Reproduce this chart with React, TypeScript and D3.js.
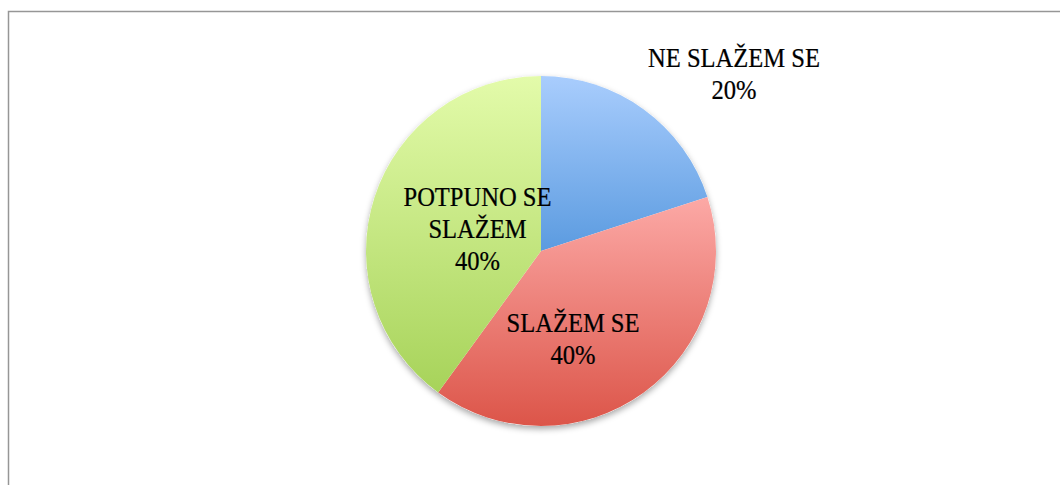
import React from "react";
import * as d3 from "d3";

const categories = ["NE SLAŽEM SE", "SLAŽEM SE", "POTPUNO SE SLAŽEM"];
const values = [20, 40, 40];
const labelLines = [["NE SLAŽEM SE", "20%"], ["SLAŽEM SE", "40%"], ["POTPUNO SE", "SLAŽEM", "40%"]];
const gradTop = ["#a9cdfd", "#fca9a6", "#e3fbaa"];
const gradBottom = ["#5b9be0", "#dc5549", "#a7d35a"];
// label anchor (center x, first baseline y) layout
const labelPos = [[734, 67], [573, 332], [477.5, 206]];

export default function App() {
  const W = 1060, H = 485;
  const cx = 541, cy = 251, r = 175;
  const pie = d3.pie<number>().sort(null).value((d) => d);
  const arcs = pie(values);
  const arc = d3.arc<d3.PieArcDatum<number>>().innerRadius(0).outerRadius(r);
  const lineH = 32;
  const yRange = (a: d3.PieArcDatum<number>) => {
    const ys: number[] = [0];
    for (let t = a.startAngle; t <= a.endAngle; t += 0.01) ys.push(-Math.cos(t) * r);
    ys.push(-Math.cos(a.endAngle) * r);
    return [d3.min(ys)!, d3.max(ys)!];
  };
  return (
    <svg width={W} height={H} style={{ position: "absolute", left: 0, top: 0 }}>
      <defs>
        {arcs.map((a, i) => {
          const [y0, y1] = yRange(a);
          return (
            <linearGradient key={i} id={`g${i}`} gradientUnits="userSpaceOnUse" x1={0} y1={y0} x2={0} y2={y1}>
              <stop offset="0" stopColor={gradTop[i]} />
              <stop offset="1" stopColor={gradBottom[i]} />
            </linearGradient>
          );
        })}
        <filter id="sh" x="-20%" y="-20%" width="140%" height="140%">
          <feDropShadow dx="0" dy="3" stdDeviation="3" floodColor="#000" floodOpacity="0.35" />
        </filter>
      </defs>
      <rect x={0} y={0} width={W} height={H} fill="#fff" />
      <path d={`M8.5,${H + 5}V11.5H${W + 5}`} fill="none" stroke="#969696" strokeWidth={1.5} />
      <g transform={`translate(${cx},${cy})`}>
        <circle r={r} fill="#fff" filter="url(#sh)" />
        {arcs.map((a, i) => (
          <path key={categories[i]} d={arc(a)!} fill={`url(#g${i})`} />
        ))}
      </g>
      {labelLines.map((lines, i) => (
        <g key={i} transform={`translate(${labelPos[i][0]},${labelPos[i][1]}) scale(0.91,1)`}>
          <text textAnchor="middle" fontFamily="'Liberation Serif', serif" fontSize={27} fill="#000" stroke="#000" strokeWidth={0.25}>
            {lines.map((l, j) => (
              <tspan key={j} x={0} y={j * lineH}>{l}</tspan>
            ))}
          </text>
        </g>
      ))}
    </svg>
  );
}
